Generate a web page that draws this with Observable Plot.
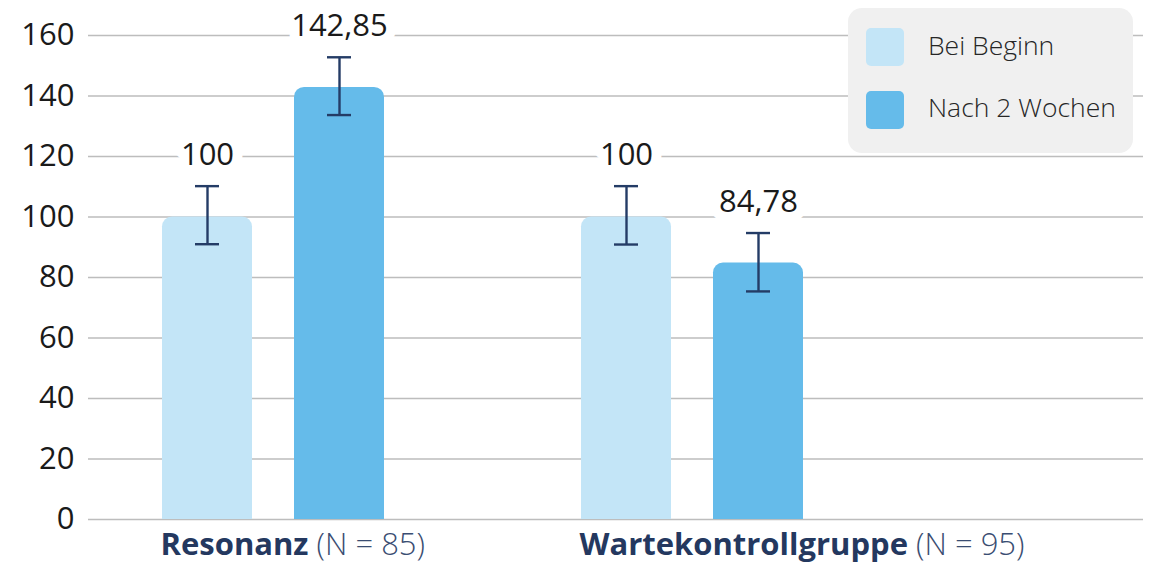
<!DOCTYPE html>
<html><head><meta charset="utf-8">
<script src="https://cdn.jsdelivr.net/npm/d3@7"></script>
<script src="https://cdn.jsdelivr.net/npm/@observablehq/plot@0.6"></script>
<style>
body{margin:0;background:#fff;}
#wrap{position:relative;width:1149px;height:573px;font-family:"Open Sans",sans-serif;}
.legend{position:absolute;left:848px;top:8px;width:285px;height:145px;background:#f0f0f0;border-radius:14px;}
.sw{position:absolute;left:18px;width:38px;height:38px;border-radius:5px;}
.lt{position:absolute;left:80px;font-size:26.5px;line-height:26.5px;font-weight:300;color:#262626;white-space:nowrap;}
</style></head><body><div id="wrap"></div>
<script>
const groups = ["Resonanz", "Wartekontrollgruppe"];
const groupN = [85, 95];
const series = ["Bei Beginn", "Nach 2 Wochen"];
const beiBeginn = [100, 100];
const beiBeginnLow = [91.0, 90.9];
const beiBeginnHigh = [110.2, 110.2];
const nach2Wochen = [142.85, 84.78];
const nach2WochenLow = [133.7, 75.4];
const nach2WochenHigh = [152.8, 94.7];
const yTicks = [0, 20, 40, 60, 80, 100, 120, 140, 160];
const colors = ["#c3e5f7", "#65bbea"];
const errColor = "#243c66";
const navy = "#24385f";

const BAND = 419, BAR = 90, GAP = 42;
const rows = [];
groups.forEach((g, i) => {
  rows.push({group: g, series: series[0], value: beiBeginn[i], low: beiBeginnLow[i], high: beiBeginnHigh[i]});
  rows.push({group: g, series: series[1], value: nach2Wochen[i], low: nach2WochenLow[i], high: nach2WochenHigh[i]});
});
const groupRows = groups.map((g, i) => ({group: g, n: groupN[i]}));
const fmt = v => String(v).replace(".", ",");

const marks = [
  Plot.gridY(yTicks, {stroke: "#bdbdbd", strokeOpacity: 1, strokeWidth: 1.4}),
  Plot.axisY(yTicks, {tickSize: 0, tickPadding: 14, fontSize: 31, fill: "#1a1a1a", label: null})
];
const offs = [0, BAR + GAP];
series.forEach((s, k) => {
  const d = rows.filter(r => r.series === s);
  const left = offs[k], right = BAND - offs[k] - BAR;
  const dxc = left + BAR / 2 - BAND / 2;
  marks.push(Plot.barY(d, {x: "group", y: "value", fill: colors[k], insetLeft: left, insetRight: right, ry1: 10}));
  marks.push(Plot.ruleX(d, {x: "group", y1: "low", y2: "high", dx: dxc, stroke: errColor, strokeWidth: 2.4}));
  marks.push(Plot.tickY(d, {x: "group", y: "low", insetLeft: left + BAR / 2 - 12, insetRight: right + BAR / 2 - 12, stroke: errColor, strokeWidth: 2.4}));
  marks.push(Plot.tickY(d, {x: "group", y: "high", insetLeft: left + BAR / 2 - 12, insetRight: right + BAR / 2 - 12, stroke: errColor, strokeWidth: 2.4}));
  marks.push(Plot.text(d, {x: "group", y: "high", text: r => fmt(r.value), dx: dxc, dy: -31, fontSize: 31, fill: "#1a1a1a", stroke: "white", strokeWidth: 20, strokeLinejoin: "round", paintOrder: "stroke"}));
});
marks.push(Plot.text(groupRows, {x: "group", text: d => `${d.group} (N = ${d.n})`, frameAnchor: "bottom", textAnchor: "start", dx: -BAND / 2 - 2, dy: 35, fontSize: 31, fill: navy}));

const chart = Plot.plot({
  width: 1149, height: 573,
  marginLeft: 88, marginRight: 6, marginTop: 35, marginBottom: 54,
  style: {fontFamily: "Open Sans", fontSize: "31px", background: "white", color: "#1a1a1a"},
  x: {type: "band", domain: groups, range: [162, 162 + 2 * BAND], paddingInner: 0, paddingOuter: 0, axis: null},
  y: {domain: [0, 160], label: null},
  marks
});
d3.select(chart).selectAll("text").each(function () {
  const t = this.textContent; const i = t.indexOf(" (N =");
  if (i < 0 || this.querySelector("tspan")) return;
  this.textContent = "";
  const sel = d3.select(this).style("white-space", "pre");
  sel.append("tspan").attr("font-weight", 700).text(t.slice(0, i));
  sel.append("tspan").attr("font-weight", 300).attr("fill", "#3a4d72").text(t.slice(i));
});
const wrap = document.getElementById("wrap");
wrap.appendChild(chart);
const leg = document.createElement("div"); leg.className = "legend";
series.forEach((s, k) => {
  const sw = document.createElement("div"); sw.className = "sw"; sw.style.top = (20 + k * 62.5) + "px"; sw.style.background = colors[k];
  const lt = document.createElement("div"); lt.className = "lt"; lt.style.top = (23.5 + k * 62.3) + "px"; lt.textContent = s;
  leg.appendChild(sw); leg.appendChild(lt);
});
wrap.appendChild(leg);
</script></body></html>
